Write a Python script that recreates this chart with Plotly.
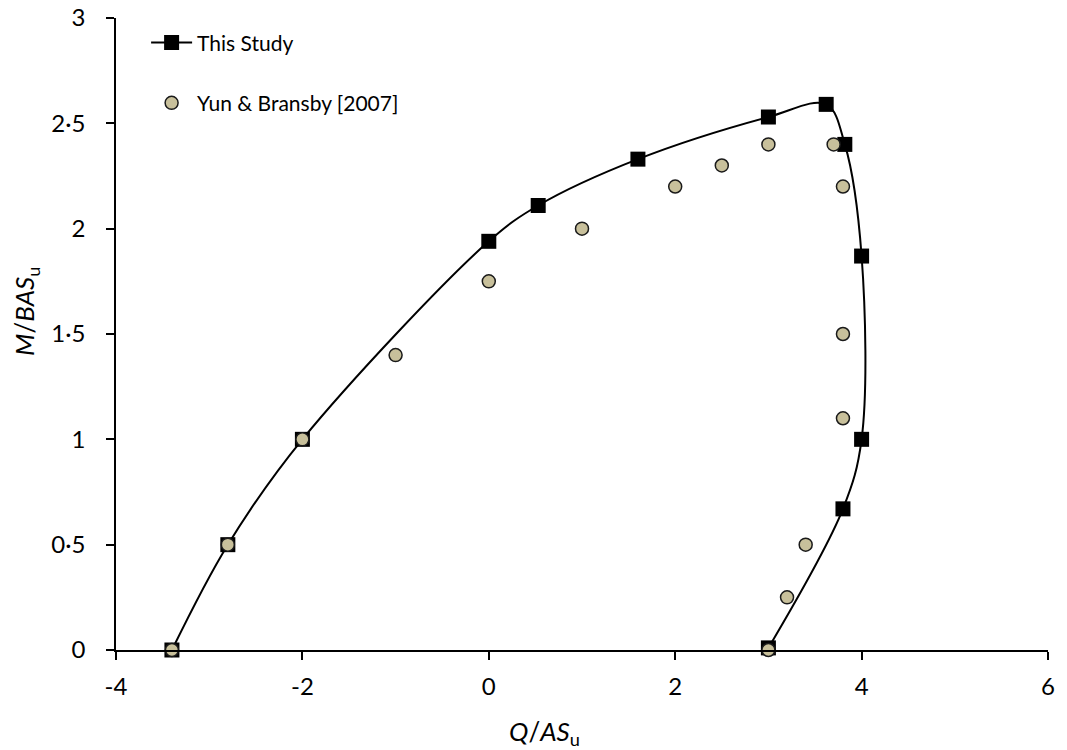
import plotly.graph_objects as go

# Failure envelope from this study (Q/ASu, M/BASu)
study_q = [-3.4, -2.8, -2.0, 0.0, 0.53, 1.6, 3.0, 3.62, 3.82, 4.0, 4.0, 3.8, 3.0]
study_m = [0.0, 0.5, 1.0, 1.94, 2.11, 2.33, 2.53, 2.59, 2.40, 1.87, 1.0, 0.67, 0.01]

# Yun & Bransby (2007) data points
yb_q = [-3.4, -2.8, -2.0, -1.0, 0.0, 1.0, 2.0, 2.5, 3.0, 3.7, 3.8, 3.8, 3.8, 3.4, 3.2, 3.0]
yb_m = [0.0, 0.5, 1.0, 1.4, 1.75, 2.0, 2.2, 2.3, 2.4, 2.4, 2.2, 1.5, 1.1, 0.5, 0.25, 0.0]

x_ticks = [-4, -2, 0, 2, 4, 6]
x_tick_text = ["-4", "-2", "0", "2", "4", "6"]
y_ticks = [0, 0.5, 1, 1.5, 2, 2.5, 3]
y_tick_text = ["0", "0·5", "1", "1·5", "2", "2·5", "3"]

FONT = "Lato, 'Open Sans', sans-serif"

fig = go.Figure()

fig.add_trace(go.Scatter(
    x=study_q, y=study_m,
    mode="lines+markers",
    name="This Study",
    legendgroup="a",
    line=dict(color="black", width=2, shape="spline", smoothing=1.0),
    marker=dict(symbol="square", size=15, color="black"),
    cliponaxis=False,
))

fig.add_trace(go.Scatter(
    x=yb_q, y=yb_m,
    mode="markers",
    name="Yun & Bransby [2007]",
    legendgroup="b",
    marker=dict(symbol="circle", size=13, color="#C8C09B",
                line=dict(color="#1a1a1a", width=1.5)),
    cliponaxis=False,
))

fig.update_layout(
    width=1067, height=750,
    margin=dict(l=116, r=19, t=18, b=100, autoexpand=False),
    paper_bgcolor="white", plot_bgcolor="white",
    font=dict(family=FONT, size=24, color="black"),
    showlegend=True,
    legend=dict(
        x=0.0323, y=0.993, xanchor="left", yanchor="top",
        bgcolor="rgba(0,0,0,0)",
        traceorder="grouped", tracegroupgap=30,
        itemwidth=41,
        font=dict(family=FONT, size=21, color="black"),
    ),
    xaxis=dict(
        range=[-4, 6], tickvals=x_ticks, ticktext=x_tick_text,
        showline=True, linecolor="black", linewidth=1.5,
        ticks="outside", ticklen=8, tickwidth=1.5, tickcolor="black",
        showgrid=False, zeroline=False, automargin=False,
        ticklabelstandoff=6,
    ),
    yaxis=dict(
        range=[0, 3], tickvals=y_ticks, ticktext=y_tick_text,
        showline=True, linecolor="black", linewidth=1.5,
        ticks="outside", ticklen=8, tickwidth=1.5, tickcolor="black",
        showgrid=False, zeroline=False, automargin=False,
        ticklabelstandoff=16,
    ),
    annotations=[
        dict(text="<i>Q</i>/<i>AS</i><sub>u</sub>", xref="paper", yref="paper",
             x=0.46, y=0, yshift=-82, xanchor="center", yanchor="middle",
             showarrow=False, font=dict(family=FONT, size=26, color="black")),
        dict(text="<i>M</i>/<i>BAS</i><sub>u</sub>", xref="paper", yref="paper",
             x=0, y=0.535, xshift=-90, xanchor="center", yanchor="middle",
             textangle=-90, showarrow=False,
             font=dict(family=FONT, size=26, color="black")),
    ],
)

fig.write_html("out.html")
